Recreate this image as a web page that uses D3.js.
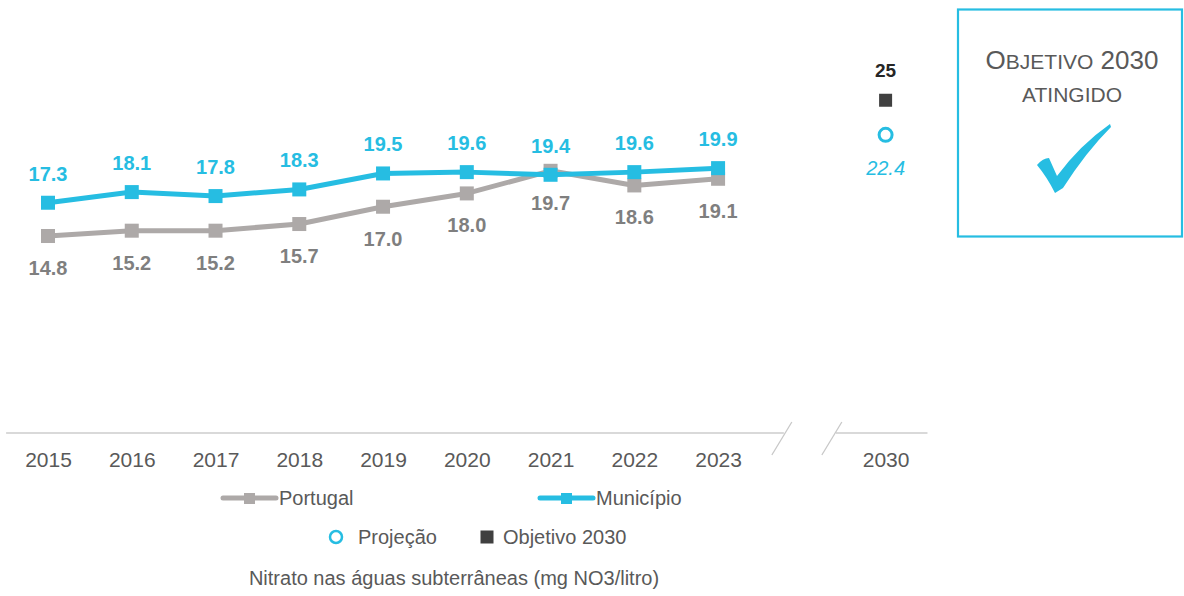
<!DOCTYPE html>
<html>
<head>
<meta charset="utf-8">
<script src="https://cdn.jsdelivr.net/npm/d3@7"></script>
<style>
  html, body { margin: 0; padding: 0; background: #fff; }
  svg { display: block; font-family: Arial, "Liberation Sans", sans-serif; }
</style>
</head>
<body>
<svg id="chart" width="1184" height="596"></svg>
<script>
// ---- data ----
const years = ["2015", "2016", "2017", "2018", "2019", "2020", "2021", "2022", "2023"];
const portugal = [14.8, 15.2, 15.2, 15.7, 17.0, 18.0, 19.7, 18.6, 19.1];
const municipio = [17.3, 18.1, 17.8, 18.3, 19.5, 19.6, 19.4, 19.6, 19.9];
const targetYear = "2030";
const objetivo2030 = [25];
const projecao2030 = [22.4];
const xCategories = [...years, "gap", targetYear];
const seriesNames = ["Portugal", "Município"];
const title = "Nitrato nas águas subterrâneas (mg NO3/litro)";

// ---- styles ----
const cBlue = "#26BDE2", cGray = "#ADA9A8", cGrayText = "#7F7F7F", cAxisText = "#595959", cDark = "#404040";

const svg = d3.select("#chart");
const x = d3.scalePoint().domain(xCategories).range([48, 885.6]);
const y = d3.scaleLinear().domain([0, 30]).range([433, 33.7]);
const step = x.step();

// axis
const axisG = svg.append("g").attr("transform", "translate(0,433)")
  .call(d3.axisBottom(x).tickValues([...years, targetYear]).tickSize(0).tickPadding(19));
axisG.select(".domain").remove();
axisG.selectAll("text").attr("font-size", 21).attr("fill", cAxisText)
  .attr("font-family", "Arial, 'Liberation Sans', sans-serif");

const gapX = x("gap");
const left = x(years[0]) - step / 2, right = x(targetYear) + step / 2;
svg.append("line").attr("x1", left).attr("x2", gapX - 18).attr("y1", 433).attr("y2", 433)
  .attr("stroke", "#D9D9D9").attr("stroke-width", 2);
svg.append("line").attr("x1", gapX + 34).attr("x2", right).attr("y1", 433).attr("y2", 433)
  .attr("stroke", "#D9D9D9").attr("stroke-width", 2);
[gapX - 20, gapX + 30].forEach(cx => {
  svg.append("line").attr("x1", cx - 10).attr("y1", 455).attr("x2", cx + 10).attr("y2", 422)
    .attr("stroke", "#C8C8C8").attr("stroke-width", 1.3);
});

// lines
const line = d3.line().x((d, i) => x(years[i])).y(d => y(d));
function drawSeries(data, color) {
  svg.append("path").datum(data).attr("d", line).attr("fill", "none")
    .attr("stroke", color).attr("stroke-width", 5).attr("stroke-linejoin", "round");
  svg.append("g").selectAll("rect").data(data).join("rect")
    .attr("x", (d, i) => x(years[i]) - 7).attr("y", d => y(d) - 7)
    .attr("width", 14).attr("height", 14).attr("fill", color);
}
drawSeries(portugal, cGray);
drawSeries(municipio, cBlue);

// labels
svg.append("g").selectAll("text").data(municipio).join("text")
  .attr("x", (d, i) => x(years[i])).attr("y", d => y(d) - 22)
  .attr("text-anchor", "middle").attr("font-size", 20).attr("font-weight", "bold")
  .attr("fill", cBlue).text(d => d.toFixed(1));
svg.append("g").selectAll("text").data(portugal).join("text")
  .attr("x", (d, i) => x(years[i])).attr("y", d => y(d) + 39)
  .attr("text-anchor", "middle").attr("font-size", 20).attr("font-weight", "bold")
  .attr("fill", cGrayText).text(d => d.toFixed(1));

// 2030 objective & projection
const tx = x(targetYear);
svg.selectAll(".obj").data(objetivo2030).join("rect").attr("class", "obj")
  .attr("x", tx - 6.5).attr("y", d => y(d) - 6.5).attr("width", 13).attr("height", 13).attr("fill", cDark);
svg.selectAll(".objl").data(objetivo2030).join("text").attr("class", "objl")
  .attr("x", tx).attr("y", d => y(d) - 23).attr("text-anchor", "middle")
  .attr("font-size", 19).attr("font-weight", "bold").attr("fill", "#262626").text(d => d);
svg.selectAll(".proj").data(projecao2030).join("circle").attr("class", "proj")
  .attr("cx", tx).attr("cy", d => y(d)).attr("r", 6.5)
  .attr("fill", "#fff").attr("stroke", cBlue).attr("stroke-width", 3);
svg.selectAll(".projl").data(projecao2030).join("text").attr("class", "projl")
  .attr("x", tx).attr("y", d => y(d) + 40).attr("text-anchor", "middle")
  .attr("font-size", 20).attr("font-style", "italic").attr("fill", cBlue).text(d => d.toFixed(1));

// legend row 1
function legLine(x0, color, label) {
  svg.append("line").attr("x1", x0).attr("x2", x0 + 53).attr("y1", 498).attr("y2", 498)
    .attr("stroke", color).attr("stroke-width", 5).attr("stroke-linecap", "round");
  svg.append("rect").attr("x", x0 + 21).attr("y", 493).attr("width", 11).attr("height", 11).attr("fill", color);
  svg.append("text").attr("x", x0 + 56).attr("y", 505).attr("font-size", 20).attr("fill", cAxisText).text(label);
}
legLine(223, cGray, seriesNames[0]);
legLine(540, cBlue, seriesNames[1]);

// legend row 2
svg.append("circle").attr("cx", 336).attr("cy", 537).attr("r", 6).attr("fill", "#fff")
  .attr("stroke", cBlue).attr("stroke-width", 2.5);
svg.append("text").attr("x", 358).attr("y", 544).attr("font-size", 20).attr("fill", cAxisText).text("Projeção");
svg.append("rect").attr("x", 480.5).attr("y", 530.5).attr("width", 13).attr("height", 13).attr("fill", cDark);
svg.append("text").attr("x", 503).attr("y", 544).attr("font-size", 20).attr("fill", cAxisText).text("Objetivo 2030");

// title
svg.append("text").attr("x", 454).attr("y", 585).attr("text-anchor", "middle")
  .attr("font-size", 20).attr("fill", cAxisText).text(title);

// objective box
svg.append("rect").attr("x", 958).attr("y", 9.5).attr("width", 224).attr("height", 227)
  .attr("fill", "none").attr("stroke", cBlue).attr("stroke-width", 2.2);
const t1 = svg.append("text").attr("x", 1072).attr("y", 69).attr("text-anchor", "middle")
  .attr("fill", cAxisText).attr("font-size", 26);
t1.append("tspan").text("O");
t1.append("tspan").attr("font-size", 21).text("BJETIVO");
t1.append("tspan").text(" 2030");
svg.append("text").attr("x", 1072).attr("y", 102).attr("text-anchor", "middle")
  .attr("fill", cAxisText).attr("font-size", 21).text("ATINGIDO");
svg.append("path")
  .attr("d", "M1037,165 Q1043,158 1049,158 Q1053,167 1057,176 Q1080,145 1110,124 L1111,127 Q1086,152 1063,188 L1055,193 Q1047,177 1037,165 Z")
  .attr("fill", cBlue);
</script>
</body>
</html>
